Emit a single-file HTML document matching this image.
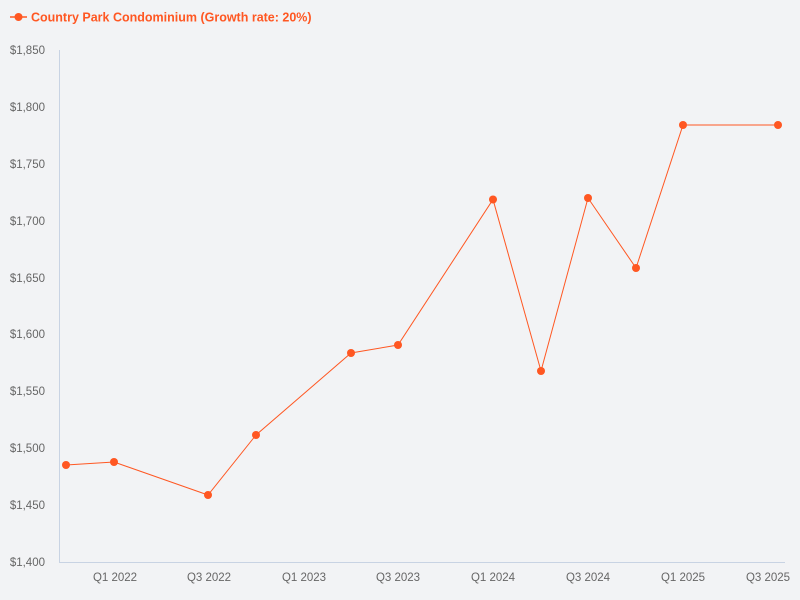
<!DOCTYPE html>
<html><head><meta charset="utf-8"><style>
html,body{margin:0;padding:0;background:#f2f3f5;}
svg{display:block;font-family:"Liberation Sans",sans-serif;}
</style></head><body>
<svg width="800" height="600" viewBox="0 0 800 600" xmlns="http://www.w3.org/2000/svg">
<rect width="800" height="600" fill="#f2f3f5"/>
<!-- legend -->
<line x1="10" y1="17" x2="27" y2="17" stroke="#ff5722" stroke-width="1.5"/>
<circle cx="18.5" cy="17" r="4" fill="#ff5722"/>
<text x="31" y="21.5" font-size="12.5" font-weight="bold" fill="#ff5722">Country Park Condominium (Growth rate: 20%)</text>
<!-- axes -->
<line x1="59.5" y1="50" x2="59.5" y2="562" stroke="#c8d3e3" stroke-width="1"/>
<line x1="59" y1="562.5" x2="785" y2="562.5" stroke="#c8d3e3" stroke-width="1"/>
<!-- y labels -->
<g font-size="11.5" fill="#666" text-anchor="end">
<text x="45" y="54">$1,850</text>
<text x="45" y="111">$1,800</text>
<text x="45" y="168">$1,750</text>
<text x="45" y="225">$1,700</text>
<text x="45" y="282">$1,650</text>
<text x="45" y="338">$1,600</text>
<text x="45" y="395">$1,550</text>
<text x="45" y="452">$1,500</text>
<text x="45" y="509">$1,450</text>
<text x="45" y="566">$1,400</text>
</g>
<!-- x labels -->
<g font-size="11.5" fill="#666" text-anchor="middle">
<text x="115" y="581">Q1 2022</text>
<text x="209" y="581">Q3 2022</text>
<text x="304" y="581">Q1 2023</text>
<text x="398" y="581">Q3 2023</text>
<text x="493" y="581">Q1 2024</text>
<text x="588" y="581">Q3 2024</text>
<text x="683" y="581">Q1 2025</text>
<text x="768" y="581">Q3 2025</text>
</g>
<!-- series -->
<polyline fill="none" stroke="#ff5722" stroke-width="1" points="66,465 114,462 208,495 256,435 351,353 398,345 493,199.5 541,371 588,198 636,268 683,125 778,125"/>
<g fill="#ff5722">
<circle cx="66" cy="465" r="4"/>
<circle cx="114" cy="462" r="4"/>
<circle cx="208" cy="495" r="4"/>
<circle cx="256" cy="435" r="4"/>
<circle cx="351" cy="353" r="4"/>
<circle cx="398" cy="345" r="4"/>
<circle cx="493" cy="199.5" r="4"/>
<circle cx="541" cy="371" r="4"/>
<circle cx="588" cy="198" r="4"/>
<circle cx="636" cy="268" r="4"/>
<circle cx="683" cy="125" r="4"/>
<circle cx="778" cy="125" r="4"/>
</g>
</svg>
</body></html>
